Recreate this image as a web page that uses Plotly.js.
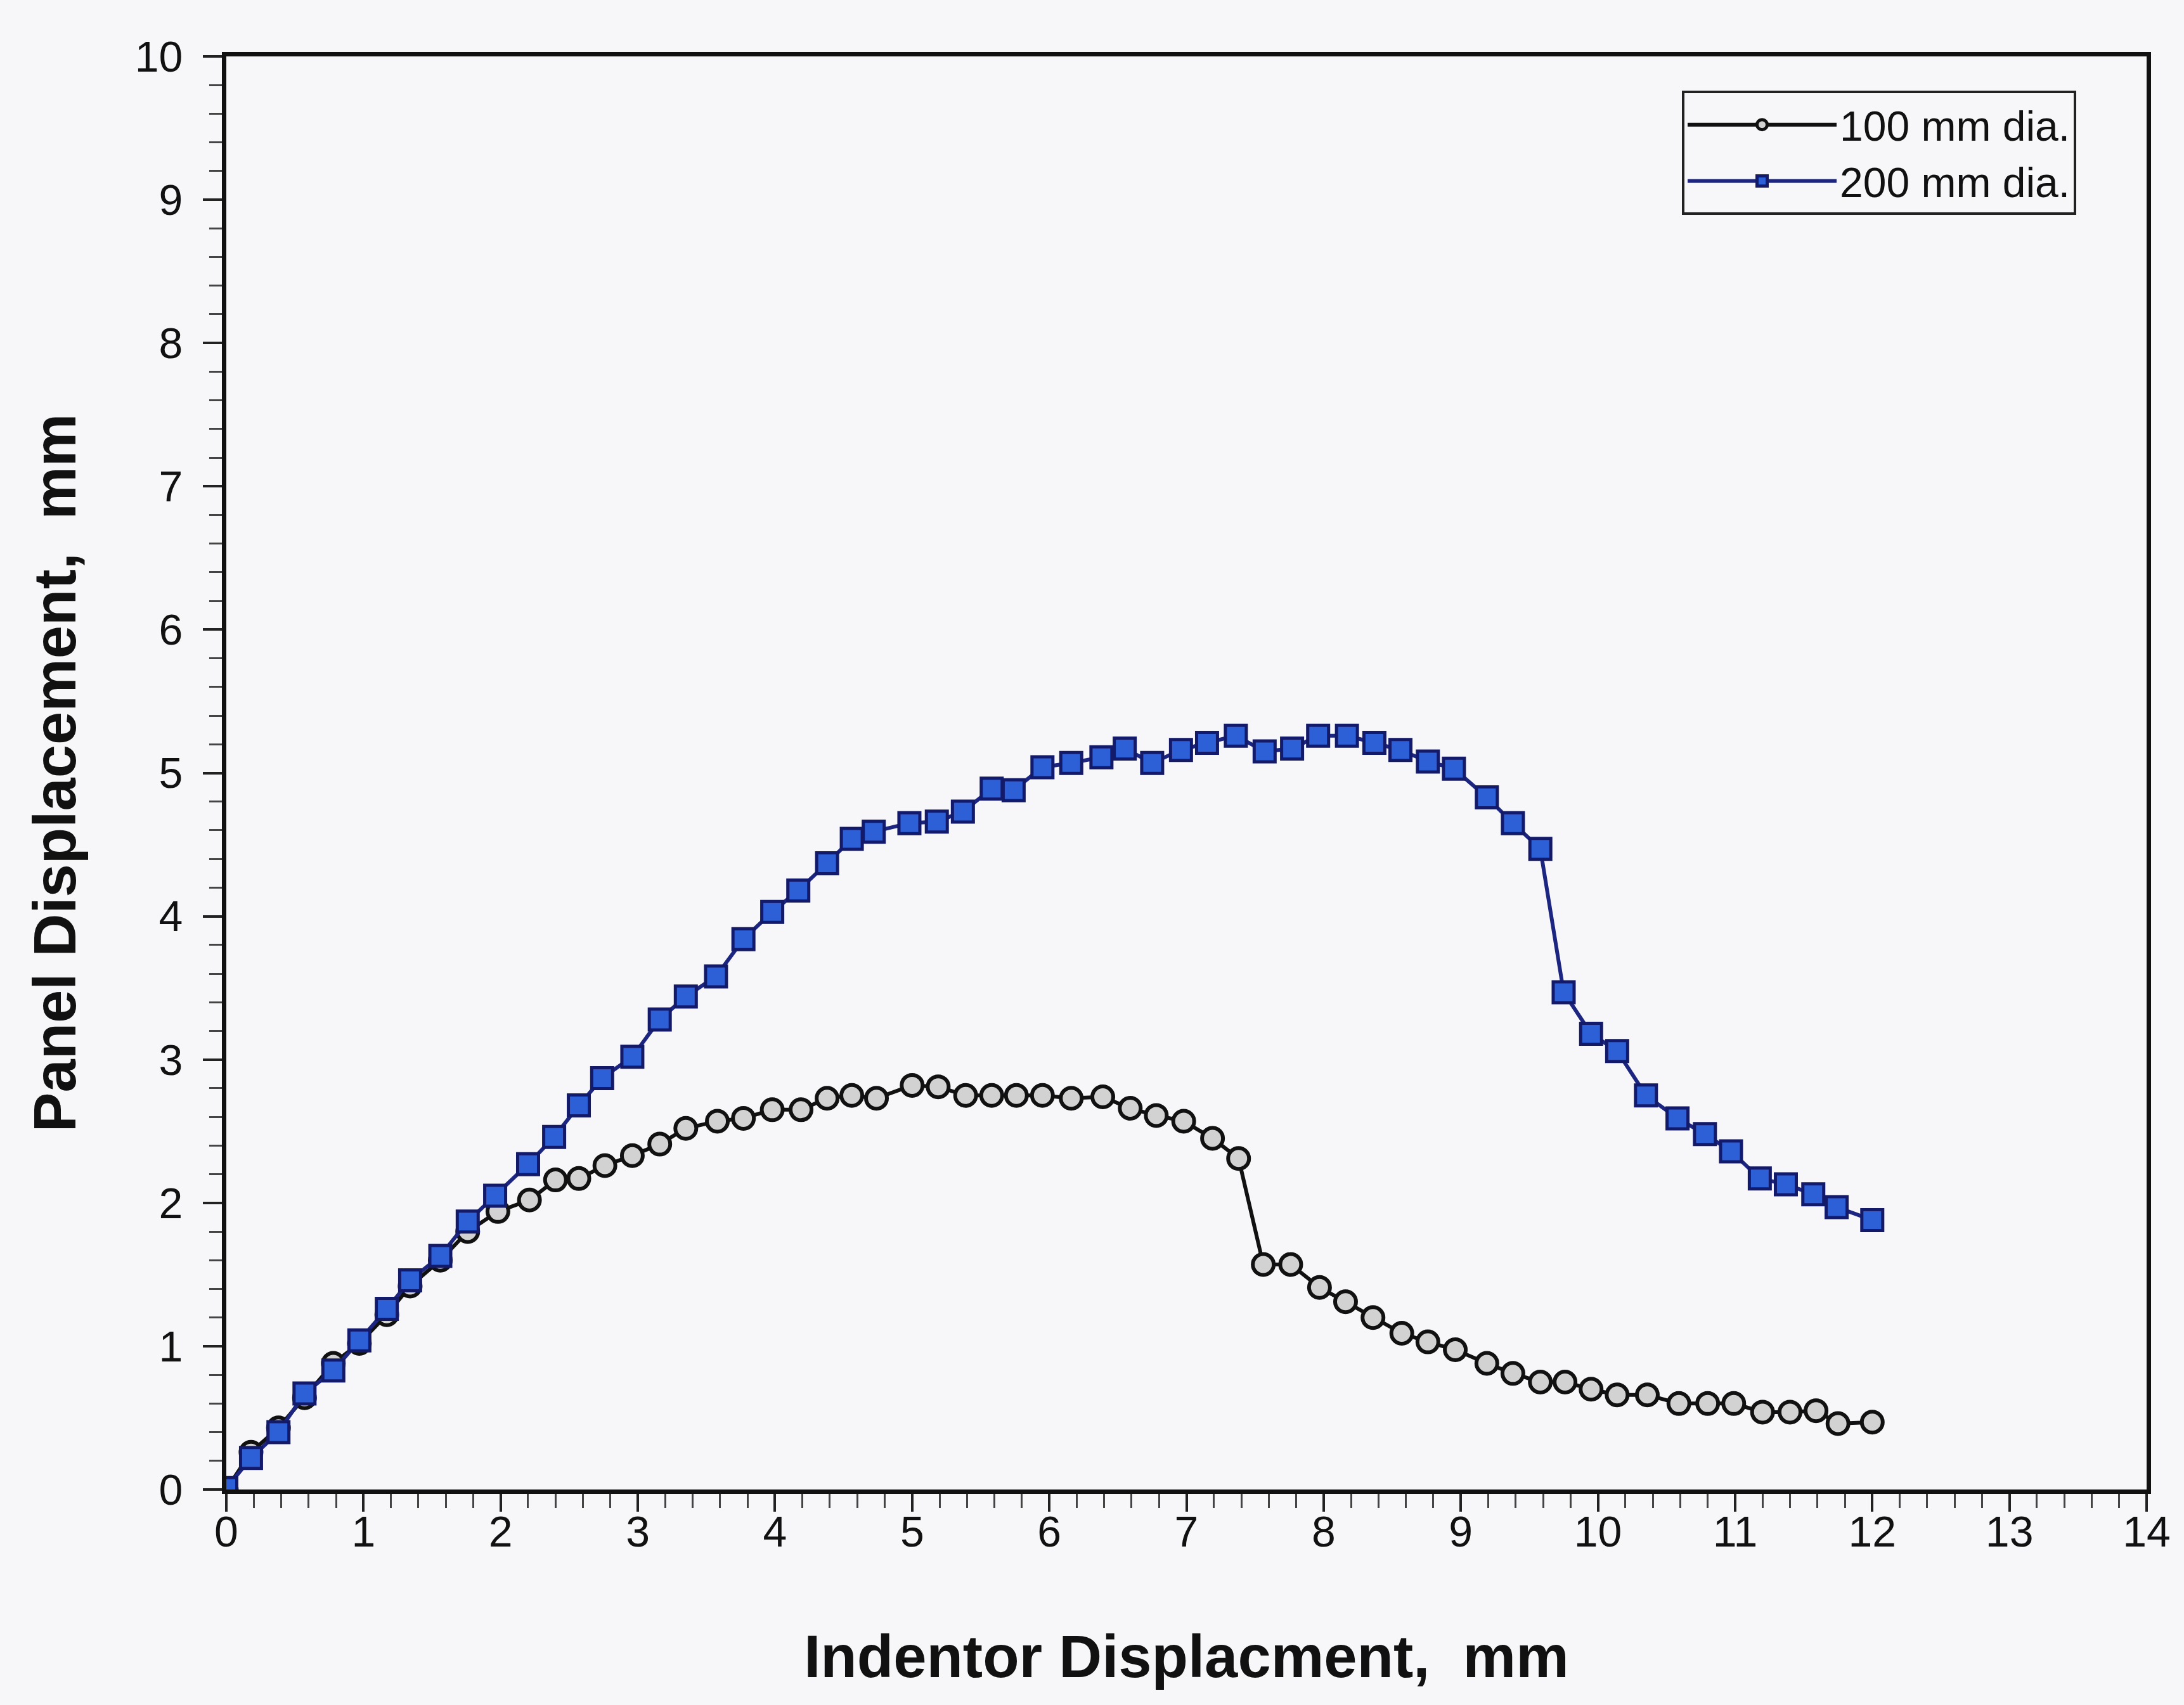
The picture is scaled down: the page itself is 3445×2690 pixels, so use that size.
<!DOCTYPE html>
<html>
<head>
<meta charset="utf-8">
<script src="https://cdn.plot.ly/plotly-3.0.1.min.js"></script>
<style>
html,body{margin:0;padding:0;background:#f7f7fa;}
#chart{width:3445px;height:2690px;}
</style>
</head>
<body>
<div id="chart"></div>
<script>
// 100 mm dia. series
const x100 = [0, 0.18, 0.38, 0.57, 0.78, 0.97, 1.17, 1.34, 1.56, 1.76, 1.98, 2.21, 2.40, 2.57, 2.76, 2.96, 3.16, 3.35, 3.58, 3.77, 3.98, 4.19, 4.38, 4.56, 4.74, 5.0, 5.19, 5.39, 5.58, 5.76, 5.95, 6.16, 6.39, 6.59, 6.78, 6.98, 7.19, 7.38, 7.56, 7.76, 7.97, 8.16, 8.36, 8.57, 8.76, 8.96, 9.19, 9.38, 9.58, 9.76, 9.95, 10.14, 10.36, 10.59, 10.80, 10.99, 11.20, 11.40, 11.59, 11.75, 12.0];
const y100 = [0, 0.26, 0.43, 0.64, 0.88, 1.02, 1.22, 1.42, 1.60, 1.80, 1.94, 2.02, 2.16, 2.17, 2.26, 2.33, 2.41, 2.52, 2.57, 2.59, 2.65, 2.65, 2.73, 2.75, 2.73, 2.82, 2.81, 2.75, 2.75, 2.75, 2.75, 2.73, 2.74, 2.66, 2.61, 2.57, 2.45, 2.31, 1.57, 1.57, 1.41, 1.31, 1.20, 1.09, 1.03, 0.975, 0.88, 0.81, 0.75, 0.75, 0.70, 0.66, 0.66, 0.60, 0.60, 0.60, 0.54, 0.54, 0.55, 0.46, 0.47];

// 200 mm dia. series
const x200 = [0, 0.18, 0.38, 0.57, 0.78, 0.97, 1.17, 1.34, 1.56, 1.76, 1.96, 2.20, 2.39, 2.57, 2.74, 2.96, 3.16, 3.35, 3.57, 3.77, 3.98, 4.17, 4.38, 4.56, 4.72, 4.98, 5.18, 5.37, 5.58, 5.74, 5.95, 6.16, 6.38, 6.55, 6.75, 6.96, 7.15, 7.36, 7.57, 7.77, 7.96, 8.17, 8.37, 8.56, 8.76, 8.95, 9.19, 9.38, 9.58, 9.75, 9.95, 10.14, 10.35, 10.58, 10.78, 10.97, 11.18, 11.37, 11.57, 11.74, 12.0];
const y200 = [0.01, 0.22, 0.40, 0.67, 0.83, 1.04, 1.26, 1.46, 1.63, 1.87, 2.05, 2.27, 2.46, 2.68, 2.87, 3.02, 3.28, 3.44, 3.58, 3.84, 4.03, 4.18, 4.37, 4.54, 4.59, 4.65, 4.66, 4.73, 4.89, 4.88, 5.04, 5.07, 5.11, 5.17, 5.07, 5.16, 5.21, 5.26, 5.15, 5.17, 5.26, 5.26, 5.21, 5.16, 5.08, 5.03, 4.83, 4.65, 4.47, 3.47, 3.18, 3.06, 2.75, 2.59, 2.48, 2.36, 2.17, 2.13, 2.06, 1.97, 1.88];

const seriesNames = ["100 mm dia.", "200 mm dia."];
const xTitle = "Indentor Displacment,  mm";
const yTitle = "Panel Displacement,  mm";

const FONT = "Liberation Sans, Arial, sans-serif";

const traces = [
  {
    x: x100, y: y100, name: seriesNames[0], type: "scatter", mode: "lines+markers",
    line: {color: "#111111", width: 6},
    marker: {symbol: "circle", size: 33, color: "#d2d2d2", line: {color: "#111111", width: 6}}
  },
  {
    x: x200, y: y200, name: seriesNames[1], type: "scatter", mode: "lines+markers",
    line: {color: "#1c2580", width: 6},
    marker: {symbol: "square", size: 33, color: "#2d5fd6", line: {color: "#141a6a", width: 5}}
  }
];

const layout = {
  width: 3445, height: 2690,
  paper_bgcolor: "#f7f7fa", plot_bgcolor: "#f7f7fa",
  margin: {l: 357, r: 59, t: 89, b: 340},
  font: {family: FONT, color: "#111111"},
  showlegend: true,
  legend: {
    x: 0.758, y: 0.976, xanchor: "left", yanchor: "top",
    bgcolor: "#f7f7fa", bordercolor: "#222222", borderwidth: 4,
    font: {family: FONT, size: 66, color: "#111111"},
    itemwidth: 235, tracegroupgap: 0
  },
  xaxis: {
    range: [0, 14], dtick: 1, tick0: 0,
    showline: true, linecolor: "#111111", linewidth: 7, mirror: true,
    showgrid: false, zeroline: false,
    ticks: "outside", ticklen: 28, tickwidth: 4, tickcolor: "#222222",
    minor: {dtick: 0.2, ticks: "outside", ticklen: 22, tickwidth: 3, tickcolor: "#444444", showgrid: false},
    tickfont: {family: FONT, size: 68, color: "#111111"},
    ticklabelstandoff: -27,
    title: {text: xTitle, font: {family: FONT, size: 94, color: "#111111", weight: "bold"}, standoff: 130}
  },
  yaxis: {
    range: [0, 10], dtick: 1, tick0: 0,
    showline: true, linecolor: "#111111", linewidth: 7, mirror: true,
    showgrid: false, zeroline: false,
    ticks: "outside", ticklen: 30, tickwidth: 4, tickcolor: "#222222",
    minor: {dtick: 0.2, ticks: "outside", ticklen: 20, tickwidth: 3, tickcolor: "#444444", showgrid: false},
    tickfont: {family: FONT, size: 68, color: "#111111"},
    ticklabelstandoff: 18,
    title: {text: yTitle, font: {family: FONT, size: 94, color: "#111111", weight: "bold"}, standoff: 64}
  },
  xaxis2: {
    overlaying: "x", anchor: "y", side: "bottom", range: [0, 14], dtick: 1, tick0: 0,
    showline: false, showgrid: false, zeroline: false, showticklabels: false,
    ticks: "inside", ticklen: 25, tickwidth: 4, tickcolor: "#222222"
  },
  yaxis2: {
    overlaying: "y", anchor: "x", side: "left", range: [0, 10], dtick: 1, tick0: 0,
    showline: false, showgrid: false, zeroline: false, showticklabels: false,
    ticks: "inside", ticklen: 22, tickwidth: 4, tickcolor: "#222222"
  }
};

Plotly.newPlot("chart", traces, layout, {staticPlot: true});
</script>
</body>
</html>
